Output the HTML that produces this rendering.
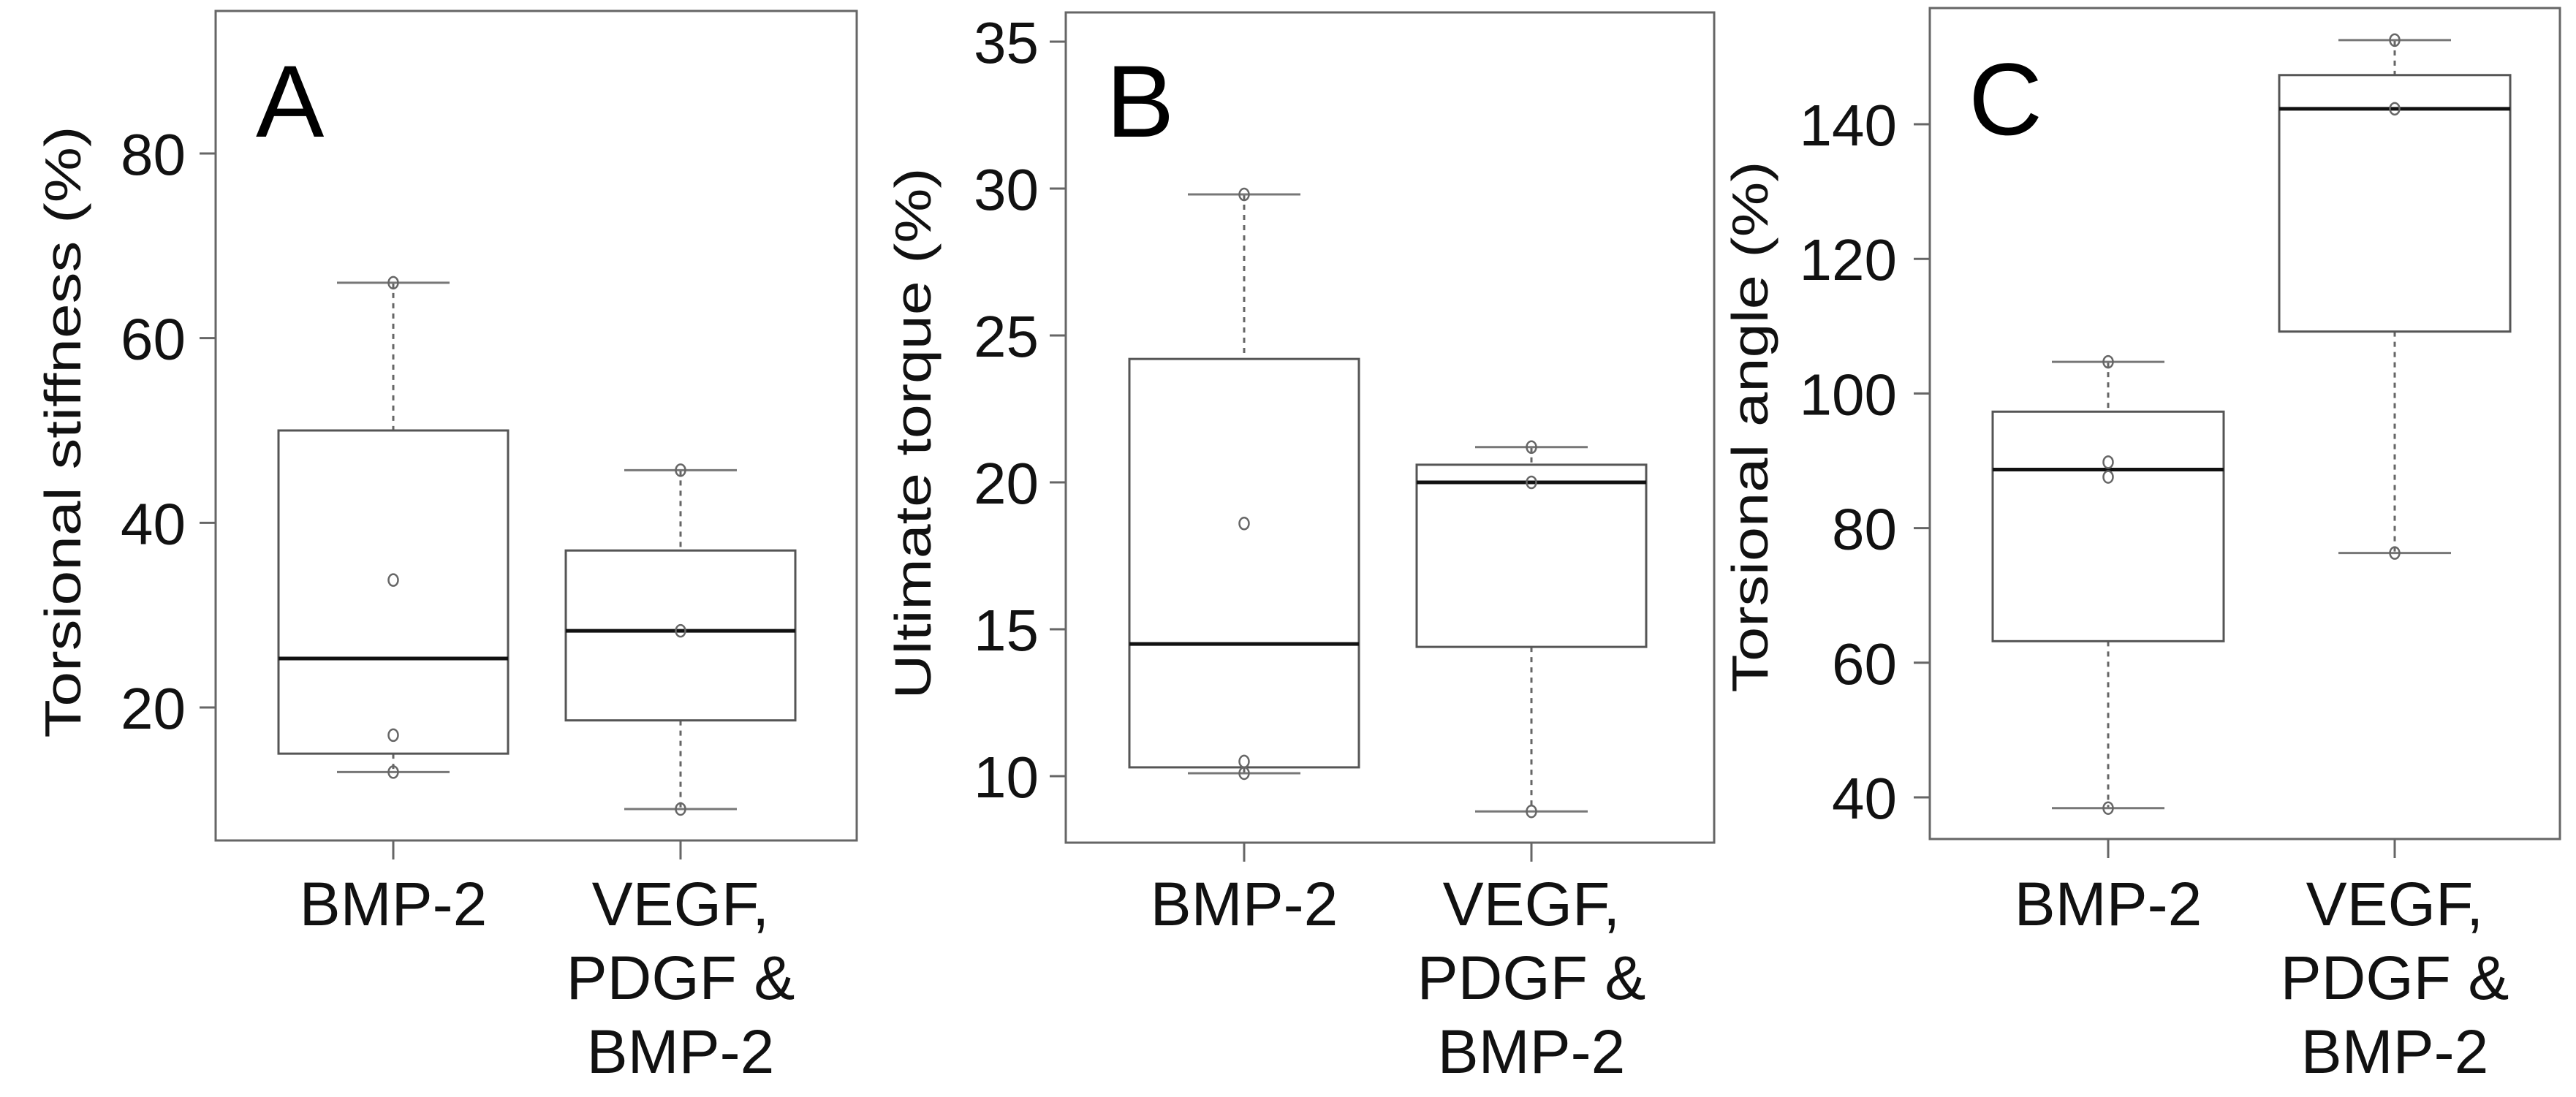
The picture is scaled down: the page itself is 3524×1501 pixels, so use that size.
<!DOCTYPE html>
<html><head><meta charset="utf-8"><style>
html,body{margin:0;padding:0;background:#fff;}
svg{display:block;font-family:"Liberation Sans",sans-serif;}
</style></head><body>
<svg id="fig" width="3524" height="1501" viewBox="0 0 3524 1501"></svg>
<script>
const groups = ["BMP-2", "VEGF, PDGF & BMP-2"];
// Panel A: torsional stiffness
const statsA = [[13, 15, 25.3, 50, 66], [9, 18.6, 28.3, 37, 45.7]];
const pointsA = [[66, 33.8, 17, 13], [45.7, 28.3, 9]];
const ticksA = [20, 40, 60, 80];
// Panel B: ultimate torque
const statsB = [[10.1, 10.3, 14.5, 24.2, 29.8], [8.8, 14.4, 20.0, 20.6, 21.2]];
const pointsB = [[29.8, 18.6, 10.5, 10.1], [21.2, 20, 8.8]];
const ticksB = [10, 15, 20, 25, 30, 35];
// Panel C: torsional angle
const statsC = [[38.4, 63.2, 88.7, 97.3, 104.7], [76.3, 109.2, 142.3, 147.3, 152.5]];
const pointsC = [[104.7, 89.8, 87.6, 38.4], [152.5, 142.3, 76.3]];
const ticksC = [40, 60, 80, 100, 120, 140];

const NS = "http://www.w3.org/2000/svg";
const svg = document.getElementById("fig");
function mk(tag, attrs, parent) {
  const e = document.createElementNS(NS, tag);
  for (const k in attrs) e.setAttribute(k, attrs[k]);
  (parent || svg).appendChild(e);
  return e;
}
const panels = [
  {id:"a", letter:"A", title:"Torsional stiffness (%)", stats:statsA, pts:pointsA, ticks:ticksA,
   fx0:295, fx1:1172, fy0:15, fy1:1150, v0:20, p0:968, v1:80, p1:210, cx:[538,931], half:157,
   tickRight:254, titleX:85, titleY:591, titleLen:837, lx:350, ly:187},
  {id:"b", letter:"B", title:"Ultimate torque (%)", stats:statsB, pts:pointsB, ticks:ticksB,
   fx0:1458, fx1:2345, fy0:17, fy1:1153, v0:10, p0:1062, v1:35, p1:57, cx:[1702,2095], half:157,
   tickRight:1421, titleX:1248, titleY:593, titleLen:727, lx:1513, ly:187},
  {id:"c", letter:"C", title:"Torsional angle (%)", stats:statsC, pts:pointsC, ticks:ticksC,
   fx0:2640, fx1:3502, fy0:11, fy1:1148, v0:40, p0:1091, v1:140, p1:170, cx:[2884,3276], half:158,
   tickRight:2595, titleX:2393, titleY:584, titleLen:727, lx:2693, ly:184}
];
panels.forEach(P => {
  const y = v => P.p0 + (v - P.v0) * (P.p1 - P.p0) / (P.v1 - P.v0);
  const g = mk("g", {});
  
  
  const fr = mk("rect", {x:P.fx0, y:P.fy0, width:P.fx1-P.fx0, height:P.fy1-P.fy0, fill:"none", stroke:"#666", "stroke-width":3}, g);
  
  
  const lt = mk("text", {x:P.lx, y:P.ly, "font-size":140, fill:"#000"}, g);
  lt.textContent = P.letter;
  
  
  P.ticks.forEach(t => {
    const ty = y(t);
    const tl = mk("line", {x1:P.fx0-22, x2:P.fx0, y1:ty, y2:ty, stroke:"#666", "stroke-width":3}, g);
    
    
    const tx = mk("text", {x:P.tickRight, y:ty+29, "font-size":80, "text-anchor":"end", fill:"#111"}, g);
    tx.textContent = t;
    
    
  });
  const yt = mk("text", {x:0, y:0, "font-size":70, "text-anchor":"middle", fill:"#111",
    textLength:P.titleLen, lengthAdjust:"spacingAndGlyphs",
    transform:`translate(${P.titleX+25},${P.titleY}) rotate(-90)`}, g);
  yt.textContent = P.title;
  
  
  P.stats.forEach((s, i) => {
    const cx = P.cx[i], h = P.half, cap = 77;
    const bg = mk("g", {}, g);
    
    
    mk("line", {x1:cx, x2:cx, y1:y(s[4]), y2:y(s[3]), stroke:"#666", "stroke-width":3, "stroke-dasharray":"7 7"}, bg);
    mk("line", {x1:cx, x2:cx, y1:y(s[1]), y2:y(s[0]), stroke:"#666", "stroke-width":3, "stroke-dasharray":"7 7"}, bg);
    mk("line", {x1:cx-cap, x2:cx+cap, y1:y(s[4]), y2:y(s[4]), stroke:"#777", "stroke-width":3}, bg);
    mk("line", {x1:cx-cap, x2:cx+cap, y1:y(s[0]), y2:y(s[0]), stroke:"#777", "stroke-width":3}, bg);
    mk("rect", {x:cx-h, y:y(s[3]), width:2*h, height:y(s[1])-y(s[3]), fill:"#fff", stroke:"#555", "stroke-width":3}, bg);
    const med = mk("line", {x1:cx-h, x2:cx+h, y1:y(s[2]), y2:y(s[2]), stroke:"#111", "stroke-width":5}, bg);
    
    
    P.pts[i].forEach(v => {
      const c = mk("ellipse", {cx:cx, cy:y(v), rx:6.5, ry:8, fill:"none", stroke:"#666", "stroke-width":2.5}, bg);
      
      
    });
    const xt = mk("line", {x1:cx, x2:cx, y1:P.fy1, y2:P.fy1+26, stroke:"#666", "stroke-width":3}, g);
    
    
    const lines = i === 0 ? [groups[0]] : ["VEGF,", "PDGF &", "BMP-2"];
    const xl = mk("text", {x:cx, y:0, "font-size":84, "text-anchor":"middle", fill:"#111"}, g);
    
    
    lines.forEach((ln, k) => {
      const ts = mk("tspan", {x:cx, y:1266 + k*101}, xl);
      ts.textContent = ln;
    });
  });
});
</script>
</body></html>
